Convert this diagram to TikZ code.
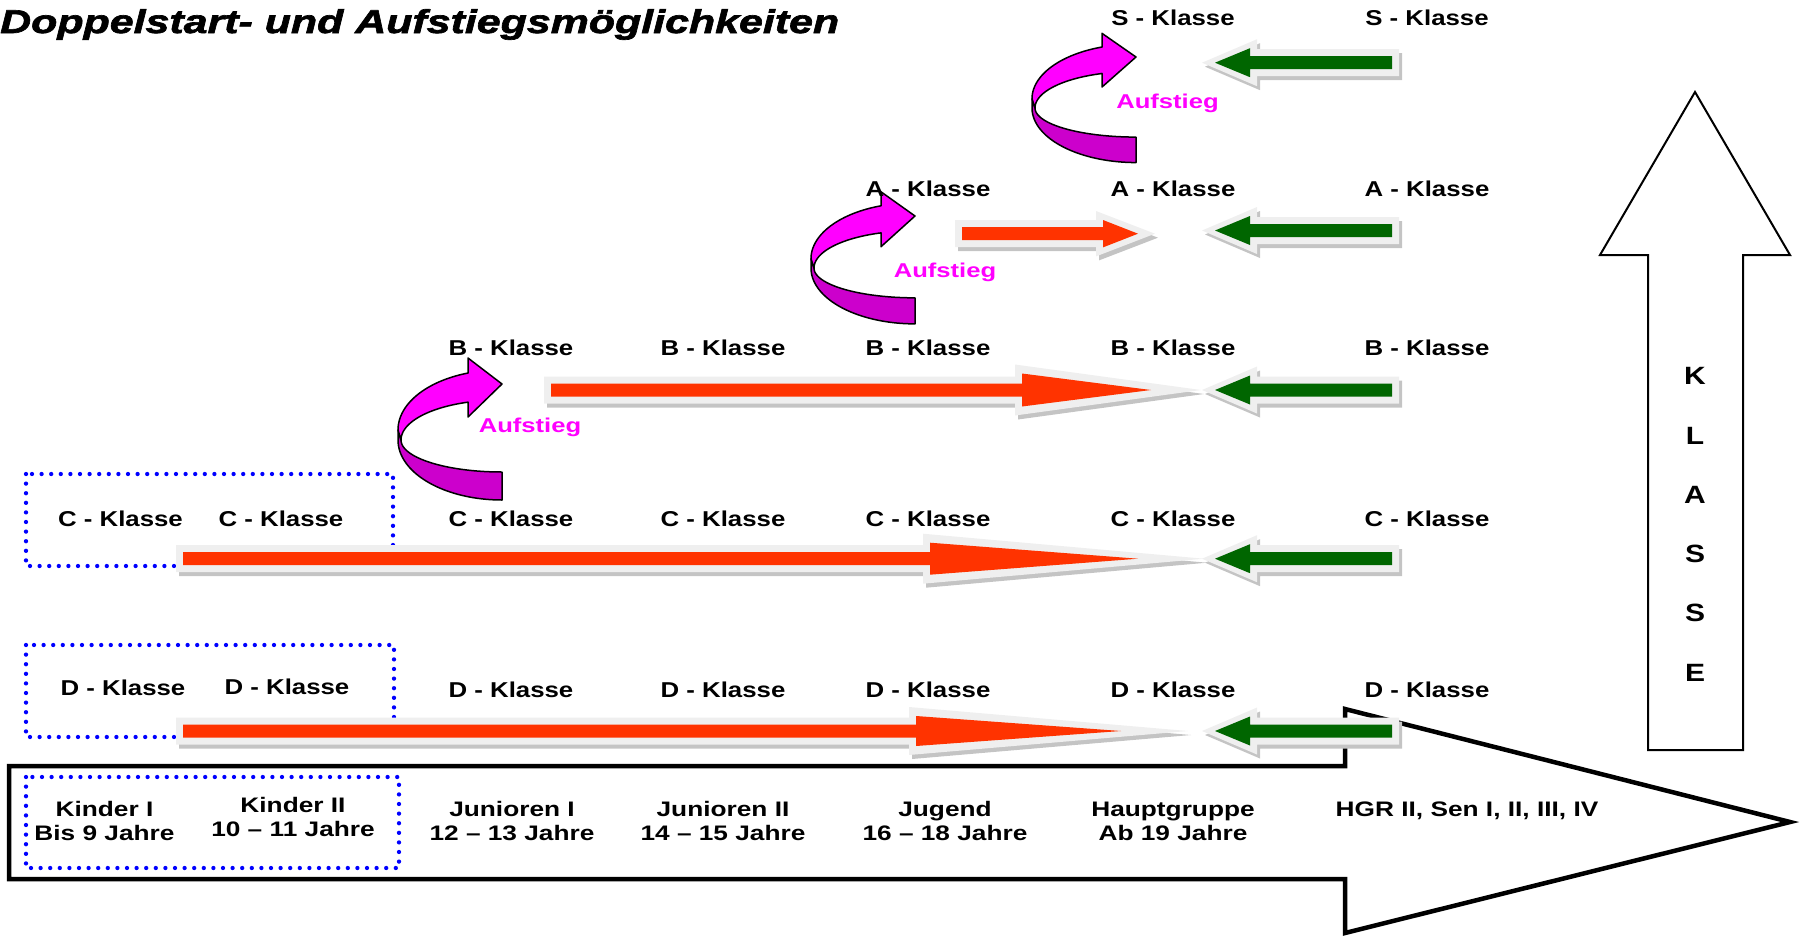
\documentclass[tikz,border=0pt]{standalone}
\usepackage{fontspec}
\setmainfont{Liberation Sans}
\newfontfamily\klfont{Liberation Sans}[FakeStretch=1.2]
\newfontfamily\agefont{Liberation Sans}[FakeStretch=1.25]
\newfontfamily\upfont{Liberation Sans}[FakeStretch=1.28]
\newfontfamily\titlefont{Liberation Sans}[FakeStretch=1.3, FakeBold=2]
\definecolor{redarr}{HTML}{FF3300}
\definecolor{greenarr}{HTML}{006600}
\definecolor{glowc}{HTML}{EFEFEF}
\definecolor{shadowc}{HTML}{C4C4C4}
\definecolor{magbright}{HTML}{FF00FF}
\definecolor{magdark}{HTML}{CC00CC}
\definecolor{dotblue}{HTML}{0000FF}
\newcommand\redarrow[6]{% y, x0, head base, head half, tip, outline tip
  \fill[shadowc] (#2-7+3,#1-13.5+4) -- (#3-7+3,#1-13.5+4) -- (#3-7+3,#1-#4-9+4) -- (#6+3,#1+4) -- (#3-7+3,#1+#4+9+4) -- (#3-7+3,#1+13.5+4) -- (#2-7+3,#1+13.5+4) -- cycle;
  \fill[glowc] (#2-7,#1-13.5) -- (#3-7,#1-13.5) -- (#3-7,#1-#4-9) -- (#6,#1) -- (#3-7,#1+#4+9) -- (#3-7,#1+13.5) -- (#2-7,#1+13.5) -- cycle;
  \fill[redarr] (#2,#1-6.5) -- (#3,#1-6.5) -- (#3,#1-#4) -- (#5,#1) -- (#3,#1+#4) -- (#3,#1+6.5) -- (#2,#1+6.5) -- cycle;
}
\newcommand\greenarrow[1]{% y
  \fill[shadowc] (1202+3,#1+4) -- (1257+3,#1-23.5+4) -- (1257+3,#1-13.5+4) -- (1399+3,#1-13.5+4) -- (1399+3,#1+13.5+4) -- (1257+3,#1+13.5+4) -- (1257+3,#1+23.5+4) -- cycle;
  \fill[glowc] (1202,#1) -- (1257,#1-23.5) -- (1257,#1-13.5) -- (1399,#1-13.5) -- (1399,#1+13.5) -- (1257,#1+13.5) -- (1257,#1+23.5) -- cycle;
  \fill[greenarr] (1215,#1) -- (1250,#1-14.5) -- (1250,#1-6.5) -- (1392,#1-6.5) -- (1392,#1+6.5) -- (1250,#1+6.5) -- (1250,#1+14.5) -- cycle;
}
\newcommand\upcurve[3]{% tip x, tip y, yscale
  \begin{scope}[shift={(#1,#2)}, yscale=#3]
    \filldraw[fill=magdark, draw=black, line width=1.5, line join=round]
      (-104,46) -- plot[domain=180:90, samples=40, variable=\t] ({104*cos(\t)}, {56+60*sin(\t)})
      -- (0,88) -- plot[domain=90:180, samples=40, variable=\t] ({101*cos(\t)}, {56+32*sin(\t)}) -- cycle;
    \filldraw[fill=magbright, draw=black, line width=1.5, line join=round]
      (-34,-11) -- (-34,-26) -- (0,0) -- (-34,33) -- (-34,18)
      -- plot[domain=251.2:180, samples=40, variable=\t] ({-2+99*cos(\t)}, {56+40*sin(\t)})
      -- (-104,46)
      -- plot[domain=180:251.7, samples=40, variable=\t] ({-2+102*cos(\t)}, {46+60*sin(\t)}) -- cycle;
  \end{scope}
}
\tikzset{
  kl/.style={font=\klfont\bfseries\fontsize{21.5}{26}\selectfont, anchor=base, inner sep=0pt},
  klbig/.style={font=\klfont\bfseries\fontsize{25}{30}\selectfont, anchor=base, inner sep=0pt},
  age/.style={font=\agefont\bfseries\fontsize{21}{24}\selectfont, anchor=base, inner sep=0pt},
  upl/.style={font=\upfont\bfseries\fontsize{20}{24}\selectfont, text=magbright, anchor=base, inner sep=0pt},
  dotbox/.style={draw=dotblue, line width=4.3, line cap=round, dash pattern=on 0pt off 9.6pt},
  bigarrow/.style={draw=black, fill=white, line join=miter}
}
\begin{document}
\begin{tikzpicture}[x=1pt, y=-1pt]
\useasboundingbox (0,0) rectangle (1800,935);
% big horizontal arrow (age)
\draw[bigarrow, line width=4.5] (9,766) -- (1345,766) -- (1345,709) -- (1790,822) -- (1345,933) -- (1345,879) -- (9,879) -- cycle;
% vertical KLASSE arrow
\draw[bigarrow, line width=2] (1648,750) -- (1648,255) -- (1600,255) -- (1695,92) -- (1790,255) -- (1743,255) -- (1743,750) -- cycle;
% dotted boxes
\draw[dotbox] (26,474) rectangle (393,566);
\draw[dotbox] (26,645) rectangle (394,737);
\draw[dotbox] (26,777) rectangle (399,868);
% red arrows
\redarrow{233.7}{962}{1103}{13.7}{1138}{1155}
\redarrow{390}{551}{1022}{16.5}{1151}{1201}
\redarrow{558.7}{183}{930}{16}{1138}{1204}
\redarrow{731}{183}{916}{15}{1121}{1188}
% green arrows
\greenarrow{62.7}
\greenarrow{230.5}
\greenarrow{390}
\greenarrow{558.7}
\greenarrow{731}
% curved Aufstieg arrows
\upcurve{502}{384}{1}
\upcurve{915}{216}{0.93}
\upcurve{1136}{57}{0.91}
% title
\node[font=\titlefont\bfseries\itshape\fontsize{33}{36}\selectfont, anchor=base west, inner sep=0pt] (title) at (0,33) {Doppelstart- und Aufstiegsmöglichkeiten};
% Aufstieg labels
\node[upl] (auf1) at (530,432.7) {Aufstieg};
\node[upl] (auf2) at (945,277.3) {Aufstieg};
\node[upl] (auf3) at (1167.5,108.3) {Aufstieg};
% Klasse labels
\foreach \n/\x/\y/\t in {s6/1173/25/S, s7/1427/25/S,
  a5/928/196/A, a6/1173/196/A, a7/1427/196/A,
  b3/511/355/B, b4/723/355/B, b5/928/355/B, b6/1173/355/B, b7/1427/355/B,
  c1/120.5/526/C, c2/281/526/C, c3/511/526/C, c4/723/526/C, c5/928/526/C, c6/1173/526/C, c7/1427/526/C,
  d1/123/695/D, d2/287/694/D, d3/511/697.5/D, d4/723/697.5/D, d5/928/697.5/D, d6/1173/697.5/D, d7/1427/697.5/D}
  \node[kl] (\n) at (\x,\y) {\t\ - Klasse};
% age labels
\node[age] (k1a) at (104.5,816) {Kinder I};
\node[age] (k1b) at (104.5,840) {Bis 9 Jahre};
\node[age] (k2a) at (293,812) {Kinder II};
\node[age] (k2b) at (293,836) {10 – 11 Jahre};
\node[age] (j1a) at (512,816) {Junioren I};
\node[age] (j1b) at (512,840) {12 – 13 Jahre};
\node[age] (j2a) at (723,816) {Junioren II};
\node[age] (j2b) at (723,840) {14 – 15 Jahre};
\node[age] (jga) at (945,816) {Jugend};
\node[age] (jgb) at (945,840) {16 – 18 Jahre};
\node[age] (hga) at (1173,816) {Hauptgruppe};
\node[age] (hgb) at (1173,840) {Ab 19 Jahre};
\node[age] (hgr) at (1467,816) {HGR II, Sen I, II, III, IV};
% KLASSE letters
\foreach \n/\l/\y in {lk/K/384, ll/L/444, la/A/503, ls1/S/562, ls2/S/621, le/E/681}
  \node[klbig] (\n) at (1695,\y) {\l};
\end{tikzpicture}
\end{document}
